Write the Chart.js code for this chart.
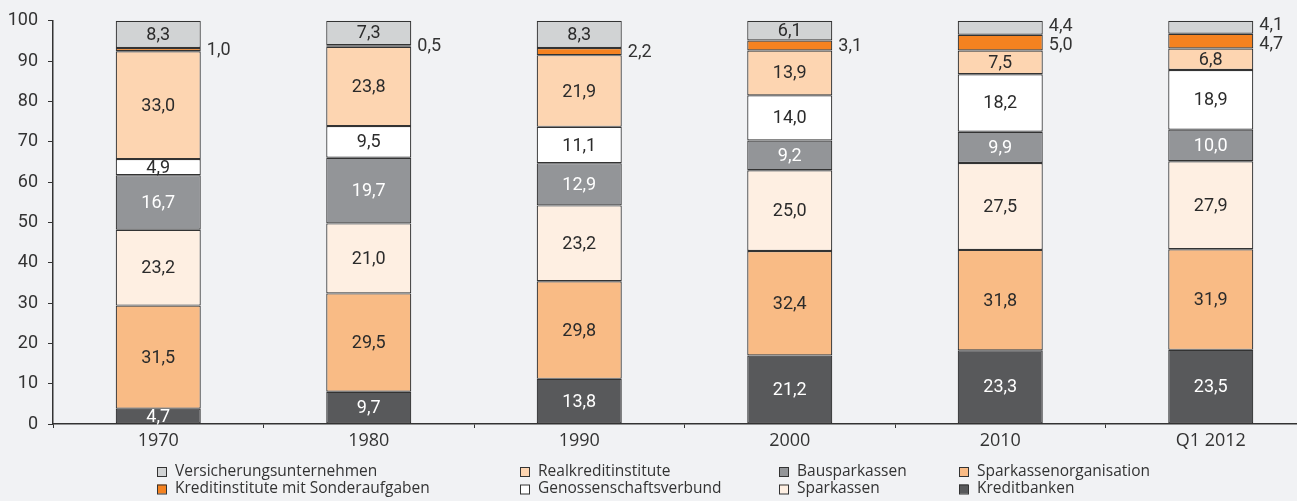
<!DOCTYPE html>
<html>
<head>
<meta charset="utf-8">
<script src="https://cdn.jsdelivr.net/npm/chart.js@4"></script>
<style>
  html, body { margin: 0; padding: 0; background: #f1f2f4; overflow: hidden; }
  #wrap { width: 1316px; height: 501px; }
</style>
</head>
<body>
<div id="wrap"><canvas id="chart"></canvas></div>
<script>
'use strict';

const CATEGORIES = ['1970', '1980', '1990', '2000', '2010', 'Q1 2012'];

// bottom to top
const KREDITBANKEN = [4.7, 9.7, 13.8, 21.2, 23.3, 23.5];
const SPARKASSENORGANISATION = [31.5, 29.5, 29.8, 32.4, 31.8, 31.9];
const SPARKASSEN = [23.2, 21.0, 23.2, 25.0, 27.5, 27.9];
const BAUSPARKASSEN = [16.7, 19.7, 12.9, 9.2, 9.9, 10.0];
const GENOSSENSCHAFTSVERBUND = [4.9, 9.5, 11.1, 14.0, 18.2, 18.9];
const REALKREDITINSTITUTE = [33.0, 23.8, 21.9, 13.9, 7.5, 6.8];
const SONDERAUFGABEN = [1.0, 0.5, 2.2, 3.1, 5.0, 4.7];
const VERSICHERUNG = [8.3, 7.3, 8.3, 6.1, 4.4, 4.1];

const SERIES = [
  { label: 'Kreditbanken', values: KREDITBANKEN, color: '#58595b', text: '#ffffff' },
  { label: 'Sparkassenorganisation', values: SPARKASSENORGANISATION, color: '#f9bb85', text: '#2b2b2b' },
  { label: 'Sparkassen', values: SPARKASSEN, color: '#feefe2', text: '#2b2b2b' },
  { label: 'Bausparkassen', values: BAUSPARKASSEN, color: '#939598', text: '#ffffff' },
  { label: 'Genossenschaftsverbund', values: GENOSSENSCHAFTSVERBUND, color: '#ffffff', text: '#2b2b2b' },
  { label: 'Realkreditinstitute', values: REALKREDITINSTITUTE, color: '#fdd5b1', text: '#2b2b2b' },
  { label: 'Kreditinstitute mit Sonderaufgaben', values: SONDERAUFGABEN, color: '#f58220', text: '#2b2b2b', outside: true },
  { label: 'Versicherungsunternehmen', values: VERSICHERUNG, color: '#d1d3d4', text: '#2b2b2b', outside: true },
];

const BORDER = '#333333';
const TEXT = '#333333';

// bars are drawn as shares of the column total
const TOTALS = CATEGORIES.map((_, i) => SERIES.reduce((sum, s) => sum + s.values[i], 0));

function fmt(v) {
  return v.toFixed(1).replace('.', ',');
}

const datasets = SERIES.map((s) => ({
  label: s.label,
  data: s.values.map((v, i) => (v / TOTALS[i]) * 100),
  raw: s.values,
  backgroundColor: s.color,
  borderColor: BORDER,
  borderWidth: 1.2,
  borderSkipped: false,
  categoryPercentage: 1,
  barPercentage: 0.404,
}));

const segmentLabels = {
  id: 'segmentLabels',
  afterDatasetsDraw(chart) {
    const ctx = chart.ctx;
    ctx.save();
    ctx.font = '18px Roboto';
    ctx.textBaseline = 'middle';
    const outsideByBar = CATEGORIES.map(() => []);

    chart.data.datasets.forEach((ds, di) => {
      const meta = chart.getDatasetMeta(di);
      const s = SERIES[di];
      meta.data.forEach((el, i) => {
        const p = el.getProps(['x', 'y', 'base', 'width'], true);
        const h = Math.abs(p.base - p.y);
        const cy = (p.y + p.base) / 2;
        const txt = fmt(ds.raw[i]);
        if (s.outside && h < 17) {
          outsideByBar[i].push({ x: p.x + p.width / 2 + 6, y: cy, txt });
        } else {
          ctx.fillStyle = s.text;
          ctx.textAlign = 'center';
          ctx.fillText(txt, p.x, cy + 1);
        }
      });
    });

    ctx.fillStyle = TEXT;
    ctx.textAlign = 'left';
    outsideByBar.forEach((labels) => {
      labels.sort((a, b) => a.y - b.y);
      for (let k = 1; k < labels.length; k++) {
        const gap = labels[k].y - labels[k - 1].y;
        if (gap < 19) {
          const push = (19 - gap) / 2;
          labels[k - 1].y -= push;
          labels[k].y += push;
        }
      }
      labels.forEach((l) => ctx.fillText(l.txt, l.x, l.y + 1));
    });
    ctx.restore();
  },
};

const gridLegend = {
  id: 'gridLegend',
  afterDraw(chart) {
    const ctx = chart.ctx;
    const cols = [157, 520, 779, 959];
    const rows = [471.5, 489];
    const order = SERIES.slice().reverse();
    ctx.save();
    ctx.font = '15.5px "Open Sans"';
    ctx.textBaseline = 'middle';
    ctx.textAlign = 'left';
    order.forEach((s, k) => {
      const x = cols[Math.floor(k / 2)];
      const y = rows[k % 2];
      ctx.fillStyle = s.color;
      ctx.fillRect(x, y - 4.5, 9, 9);
      ctx.strokeStyle = BORDER;
      ctx.lineWidth = 1;
      ctx.strokeRect(x + 0.5, y - 4, 9, 9);
      ctx.fillStyle = TEXT;
      ctx.fillText(s.label, x + 18, y);
    });
    ctx.restore();
  },
};

Chart.defaults.font.family = 'Roboto';
Chart.defaults.color = TEXT;

new Chart(document.getElementById('chart'), {
  type: 'bar',
  data: { labels: CATEGORIES, datasets },
  options: {
    responsive: true,
    maintainAspectRatio: false,
    animation: false,
    layout: { padding: { top: 19, bottom: 45, left: 0, right: 0 } },
    plugins: {
      legend: { display: false },
      tooltip: { enabled: false },
    },
    scales: {
      x: {
        stacked: true,
        grid: { drawOnChartArea: false, drawTicks: true, tickLength: 4, color: BORDER, offset: true },
        border: { display: true, color: BORDER, width: 1.5 },
        ticks: { font: { family: 'Open Sans', size: 18 }, color: TEXT, padding: 2, maxRotation: 0 },
        afterFit(scale) { scale.height = 32; },
      },
      y: {
        stacked: true,
        min: 0,
        max: 100,
        grid: { drawOnChartArea: false, drawTicks: true, tickLength: 5, color: BORDER },
        border: { display: true, color: BORDER, width: 1.5 },
        ticks: { stepSize: 10, font: { size: 18 }, color: TEXT, padding: 10 },
        afterFit(scale) { scale.width = 53; },
      },
    },
  },
  plugins: [segmentLabels, gridLegend],
});
</script>
</body>
</html>
